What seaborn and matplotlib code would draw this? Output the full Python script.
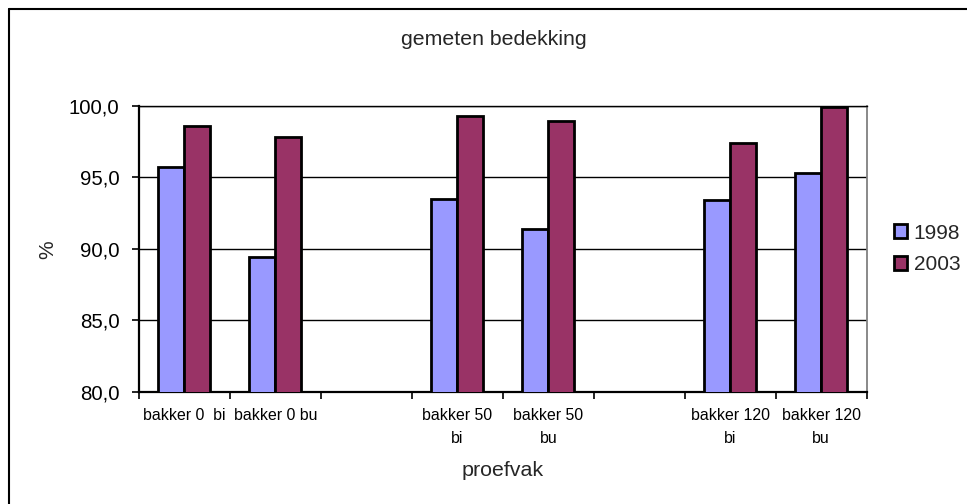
import numpy as np
import pandas as pd
import matplotlib
matplotlib.use("Agg")
import matplotlib.pyplot as plt
from matplotlib.ticker import FuncFormatter, FixedLocator
from matplotlib.lines import Line2D
import seaborn as sns

categories = ["bakker 0  bi", "bakker 0 bu", " ", "bakker 50\nbi", "bakker 50\nbu",
              "  ", "bakker 120\nbi", "bakker 120\nbu"]
years = ["1998", "2003"]
values_1998 = [95.7, 89.4, np.nan, 93.5, 91.4, np.nan, 93.4, 95.3]
values_2003 = [98.6, 97.8, np.nan, 99.3, 98.9, np.nan, 97.4, 99.9]
colors = ["#9999FF", "#993366"]

df = pd.DataFrame({
    "proefvak": categories * 2,
    "jaar": [years[0]] * len(categories) + [years[1]] * len(categories),
    "pct": values_1998 + values_2003,
})

sns.set_theme(style="white")
plt.rcParams["font.family"] = ["Liberation Sans", "DejaVu Sans"]

fig = plt.figure(figsize=(9.67, 5.04), dpi=100)
ax = fig.add_axes([0.1437, 0.2228, 0.8963 - 0.1437, 0.7903 - 0.2228])

sns.barplot(data=df, x="proefvak", y="pct", hue="jaar", order=categories,
            hue_order=years, palette=colors, width=0.571, ax=ax,
            edgecolor="black", linewidth=2.0, saturation=1, errorbar=None,
            zorder=3)

ax.set_ylim(80, 100)
ax.set_xlim(-0.5, len(categories) - 0.5)
ax.yaxis.set_major_locator(FixedLocator([80, 85, 90, 95, 100]))
ax.yaxis.set_major_formatter(FuncFormatter(lambda v, p: f"{v:.1f}".replace(".", ",")))
ax.grid(axis="y", color="black", linewidth=1.0, zorder=0)
ax.set_axisbelow(True)

ax.set_xticks(range(len(categories)))
ax.set_xticklabels(categories, fontsize=11.4, linespacing=1.65)
ax.set_xticks(np.arange(-0.5, len(categories), 1.0), minor=True)
ax.tick_params(axis="x", which="major", length=0, pad=12, colors="black")
ax.tick_params(axis="x", which="minor", length=5, width=1.2, color="black", direction="out", bottom=True)
ax.tick_params(axis="y", length=5, width=1.2, color="black", direction="out", left=True,
               labelsize=14.7, pad=9, labelcolor="black")

for s in ["left", "bottom"]:
    ax.spines[s].set_color("black")
    ax.spines[s].set_linewidth(1.6)
ax.spines["top"].set_color("black")
ax.spines["top"].set_linewidth(1.0)
ax.spines["right"].set_color("#808080")
ax.spines["right"].set_linewidth(1.3)

ax.set_xlabel("")
ax.set_ylabel("")
fig.text(0.5105, 0.921, "gemeten bedekking", ha="center", va="center", fontsize=15.3)
fig.text(0.049, 0.505, "%", ha="center", va="center", rotation=90, fontsize=15)
fig.text(0.520, 0.067, "proefvak", ha="center", va="center", fontsize=15.4)

leg = ax.get_legend()
if leg is not None:
    leg.remove()
handles = [plt.Rectangle((0, 0), 1, 1, facecolor=c, edgecolor="black", linewidth=2.0) for c in colors]
fig.legend(handles, years, loc="center left", bbox_to_anchor=(0.924, 0.506), frameon=False,
           fontsize=15, handlelength=0.67, handleheight=0.67, handletextpad=0.3,
           labelspacing=0.62, borderaxespad=0, borderpad=0)

# outer chart border (left and top visible)
fig.add_artist(Line2D([8.5 / 967, 8.5 / 967], [0, 1 - 9 / 504], transform=fig.transFigure,
                      color="black", linewidth=1.5))
fig.add_artist(Line2D([8.5 / 967, 1], [1 - 9 / 504, 1 - 9 / 504], transform=fig.transFigure,
                      color="black", linewidth=1.5))

fig.savefig("out.png", dpi=100)
